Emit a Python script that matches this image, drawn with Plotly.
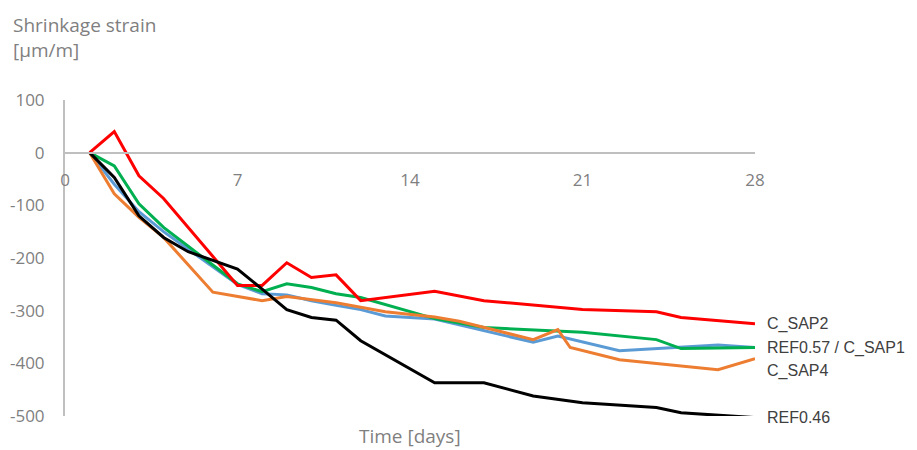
import plotly.graph_objects as go

# Shrinkage strain development over 28 days (µm/m)
days_c_sap2 = [1, 2, 3, 4, 7, 8, 9, 10, 11, 12, 15, 17, 21, 24, 25, 28]
c_sap2 = [0, 40, -44, -87, -252, -252, -209, -237, -232, -281, -263, -281, -298, -302, -313, -325]

days_c_sap1 = [1, 2, 3, 4, 7, 8, 9, 10, 11, 12, 15, 17, 21, 24, 25, 28]
c_sap1 = [0, -25, -97, -142, -249, -264, -249, -256, -268, -275, -315, -332, -341, -355, -372, -370]

days_ref057 = [1, 2, 3, 4, 7, 8, 9, 10, 11, 12, 13, 15, 19, 20, 22.5, 26.5, 28]
ref057 = [0, -60, -112, -150, -250, -268, -270, -281, -290, -298, -310, -316, -360, -348, -376, -365, -370]

days_c_sap4 = [1, 2, 3, 4, 6, 8, 9, 11, 13, 15, 16, 19, 20, 20.5, 22.5, 26.5, 28]
c_sap4 = [0, -78, -123, -161, -265, -281, -273, -285, -302, -312, -320, -355, -336, -370, -393, -412, -391]

days_ref046 = [1, 2, 3, 4, 5, 7, 8, 9, 10, 11, 12, 15, 17, 19, 21, 24, 25, 28]
ref046 = [0, -47, -120, -161, -188, -221, -259, -298, -313, -318, -357, -437, -437, -462, -475, -484, -494, -503]

x_ticks = [0, 7, 14, 21, 28]
y_ticks = [-500, -400, -300, -200, -100, 0, 100]
y_tick_text = ["-500", "-400", "-300", "-200", "-100", "0", "100"]

Y_MIN, Y_MAX = -500, 100

series = [
    ("REF0.57", days_ref057, ref057, "#5b9bd5"),
    ("C_SAP1", days_c_sap1, c_sap1, "#00b050"),
    ("C_SAP4", days_c_sap4, c_sap4, "#ed7d31"),
    ("C_SAP2", days_c_sap2, c_sap2, "#ff0000"),
    ("REF0.46", days_ref046, ref046, "#000000"),
]

fig = go.Figure()
for name, xs, ys, color in series:
    fig.add_trace(go.Scatter(x=xs, y=ys, mode="lines", name=name, cliponaxis=False,
                             line=dict(color=color, width=3), hoverinfo="skip"))

# End-of-line labels (placed in paper units so values just past the range still show)
end_labels = [
    ("C_SAP2", c_sap2[-1], 0),
    ("REF0.57 / C_SAP1", c_sap1[-1], 0),
    ("C_SAP4", c_sap4[-1], -12),
    ("REF0.46", ref046[-1], 0),
]
for text, yv, ys in end_labels:
    fig.add_annotation(x=1, y=(yv - Y_MIN) / (Y_MAX - Y_MIN), text=text,
                       xref="paper", yref="paper", showarrow=False,
                       xanchor="left", yanchor="middle", xshift=10, yshift=ys,
                       font=dict(family="Liberation Sans, Arial", size=16, color="#404040"))

grey = "#7f7f7f"
label_family = "Open Sans, sans-serif"
tick_font = dict(family=label_family, size=17, color=grey)

# x axis drawn along the zero line
zero_pos = (0 - Y_MIN) / (Y_MAX - Y_MIN)
fig.update_xaxes(range=[0, 28], tickvals=x_ticks, showgrid=False, zeroline=False,
                 showline=True, linecolor="#bfbfbf", linewidth=2, automargin=False,
                 anchor="free", position=zero_pos, ticks="", ticklabelstandoff=12,
                 tickfont=tick_font)
fig.update_yaxes(range=[Y_MIN, Y_MAX], tickvals=y_ticks, ticktext=y_tick_text,
                 showgrid=False, zeroline=False, automargin=False,
                 showline=True, linecolor="#bfbfbf", linewidth=2,
                 ticks="", ticklabelstandoff=15, tickfont=tick_font)

fig.add_annotation(x=0.5, y=-0.015, xref="paper", yref="paper", yanchor="top",
                   text="Time [days]", showarrow=False,
                   font=dict(family=label_family, size=19, color=grey))
fig.add_annotation(x=-54 / 690, y=1 + 90 / 316, xref="paper", yref="paper",
                   xanchor="left", yanchor="top", align="left",
                   text="Shrinkage strain<br>[µm/m]", showarrow=False,
                   font=dict(family=label_family, size=19, color=grey))

fig.update_layout(width=917, height=450, margin=dict(l=65, r=162, t=100, b=34),
                  paper_bgcolor="white", plot_bgcolor="white", showlegend=False)

fig.write_html("out.html")
